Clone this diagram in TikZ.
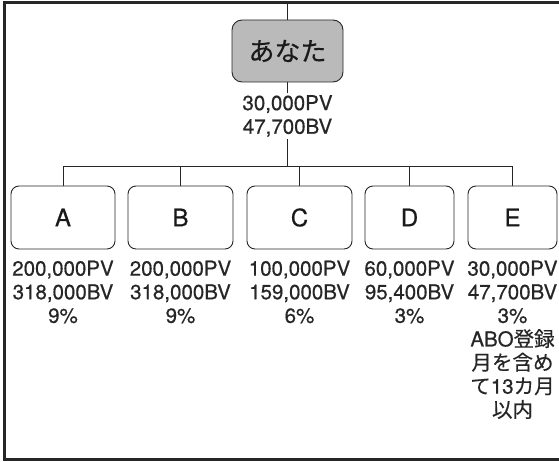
\documentclass[tikz,border=0pt]{standalone}
\usepackage{fontspec}
\setmainfont{TeX Gyre Heros}[FakeBold=0.6]
\newfontfamily\jp{Noto Sans CJK JP}[FakeBold=0.4]
\tikzset{
  box/.style={draw=black!85, line width=0.9pt, rounded corners=8pt, minimum height=63pt, inner sep=0pt, font=\fontsize{24}{28}\selectfont, text=black!90},
  topbox/.style={box, fill=black!27, rounded corners=10pt, minimum width=111pt, minimum height=62pt, font=\jp\fontsize{26}{30}\selectfont},
  data/.style={anchor=north, align=center, inner sep=0pt, font=\fontsize{20.5}{23.6}\selectfont, text=black!85},
  wire/.style={line width=0.9pt, draw=black!85},
  frame/.style={line width=3pt, draw=black!85}
}
\begin{document}
\begin{tikzpicture}[x=1pt,y=-1pt]
\useasboundingbox (0,0) rectangle (559,462);
\draw[frame] (559,2.5) -- (4.5,2.5) -- (4.5,459.5) -- (559,459.5);
\coordinate (topin) at (287.5,2.5);
\coordinate (bar) at (287.5,166);
\node[topbox] (you) at (287.5,51) {あなた};
\node[box, minimum width=104pt] (A) at (63,217.5) {A};
\node[box, minimum width=105pt] (B) at (180.5,217.5) {B};
\node[box, minimum width=105pt] (C) at (299.5,217.5) {C};
\node[box, minimum width=89pt] (D) at (409.5,217.5) {D};
\node[box, minimum width=89pt] (E) at (512.5,217.5) {E};
\draw[wire] (topin) -- (you.north);
\draw[wire] (you.south) -- (bar);
\foreach \c in {A,B,C,D,E} \draw[wire] (bar) -| (\c.north);
\node[data, fill=white, inner sep=2.5pt] (youdata) at (287.5,92.5) {30,000PV\\47,700BV};
\node[data] (Ad) at (63,260.5) {200,000PV\\318,000BV\\9\%};
\node[data] (Bd) at (180.5,260.5) {200,000PV\\318,000BV\\9\%};
\node[data] (Cd) at (299.5,260.5) {100,000PV\\159,000BV\\6\%};
\node[data] (Dd) at (409.5,260.5) {60,000PV\\95,400BV\\3\%};
\node[data] (Ed) at (512.5,260.5) {30,000PV\\47,700BV\\3\%\\ABO{\jp 登録}\\{\jp 月を含め}\\{\jp て}13{\jp カ月}\\{\jp 以内}};
\end{tikzpicture}
\end{document}
